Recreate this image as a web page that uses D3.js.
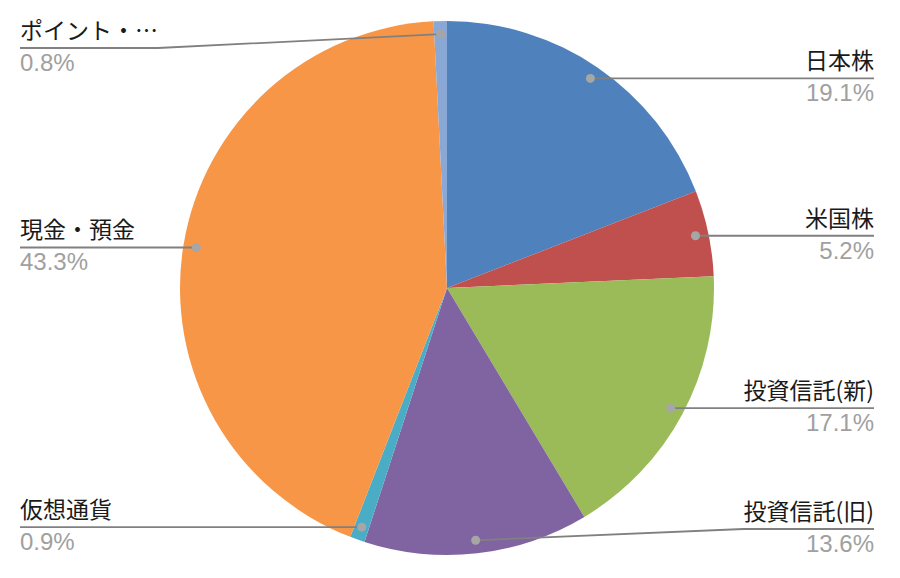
<!DOCTYPE html>
<html><head><meta charset="utf-8">
<script src="https://cdn.jsdelivr.net/npm/d3@7"></script>
<style>html,body{margin:0;padding:0;background:#fff;}svg{display:block;}</style>
</head><body>
<svg id="chart" width="900" height="578"></svg>
<script>
const categories = ["日本株","米国株","投資信託(新)","投資信託(旧)","仮想通貨","現金・預金","ポイント・…"];
const values = [19.1, 5.2, 17.1, 13.6, 0.9, 43.3, 0.8];
const valueLabels = ["19.1%","5.2%","17.1%","13.6%","0.9%","43.3%","0.8%"];
const colors = ["#4F81BD","#C0504D","#9BBB59","#8064A2","#4BACC6","#F79646","#8AA8D6"];

const svg = d3.select("#chart");
const W = 900, H = 578;
const cx = 447, cy = 288, R = 267;
const g = svg.append("g").attr("transform", `translate(${cx},${cy})`);
const data = categories.map((c,i)=>({name:c, value:values[i], label:valueLabels[i], color:colors[i]}));
const pie = d3.pie().value(d=>d.value).sort(null);
const arcs = pie(data);
const arc = d3.arc().innerRadius(0).outerRadius(R);
g.selectAll("path.slice").data(arcs).join("path")
  .attr("class","slice").attr("d", arc).attr("fill", d=>d.data.color);

const dotArc = d3.arc().innerRadius(R*0.951).outerRadius(R*0.951);
const leftX = 20, rightX = 874;
const labelG = svg.append("g");
arcs.forEach(a => {
  const [dx, dy] = dotArc.centroid(a);
  const px = cx + dx, py = cy + dy;
  const mid = (a.startAngle + a.endAngle)/2;
  const right = mid < Math.PI;
  const u = Math.max(48, Math.min(529, py));
  const gg = labelG.append("g");
  const name = gg.append("text").text(a.data.name)
    .attr("x", right ? rightX : leftX).attr("y", u - 9)
    .attr("text-anchor", right ? "end" : "start")
    .attr("font-family", "'Noto Sans CJK JP', sans-serif")
    .attr("font-size", 23).attr("fill", "#1a1a1a");
  const pct = gg.append("text").text(a.data.label)
    .attr("x", right ? rightX : leftX).attr("y", u + 23)
    .attr("text-anchor", right ? "end" : "start")
    .attr("font-family", "'Liberation Sans', Arial, sans-serif")
    .attr("font-size", 24).attr("fill", "#a0a0a0");
  const w = Math.max(name.node().getComputedTextLength(), pct.node().getComputedTextLength());
  const outer = right ? rightX : leftX;
  const elbow = right ? rightX - w : leftX + w;
  const pts = Math.abs(u - py) < 1.5 ? [[outer,u],[px,u]] : [[outer,u],[elbow,u],[px,py]];
  gg.insert("path","text").attr("d", d3.line()(pts))
    .attr("fill","none").attr("stroke","#808080").attr("stroke-width",1.8);
  gg.append("circle").attr("cx", px).attr("cy", Math.abs(u-py)<1.5 ? u : py).attr("r", 4.5).attr("fill","#a6a6a6");
});
</script>
</body></html>
